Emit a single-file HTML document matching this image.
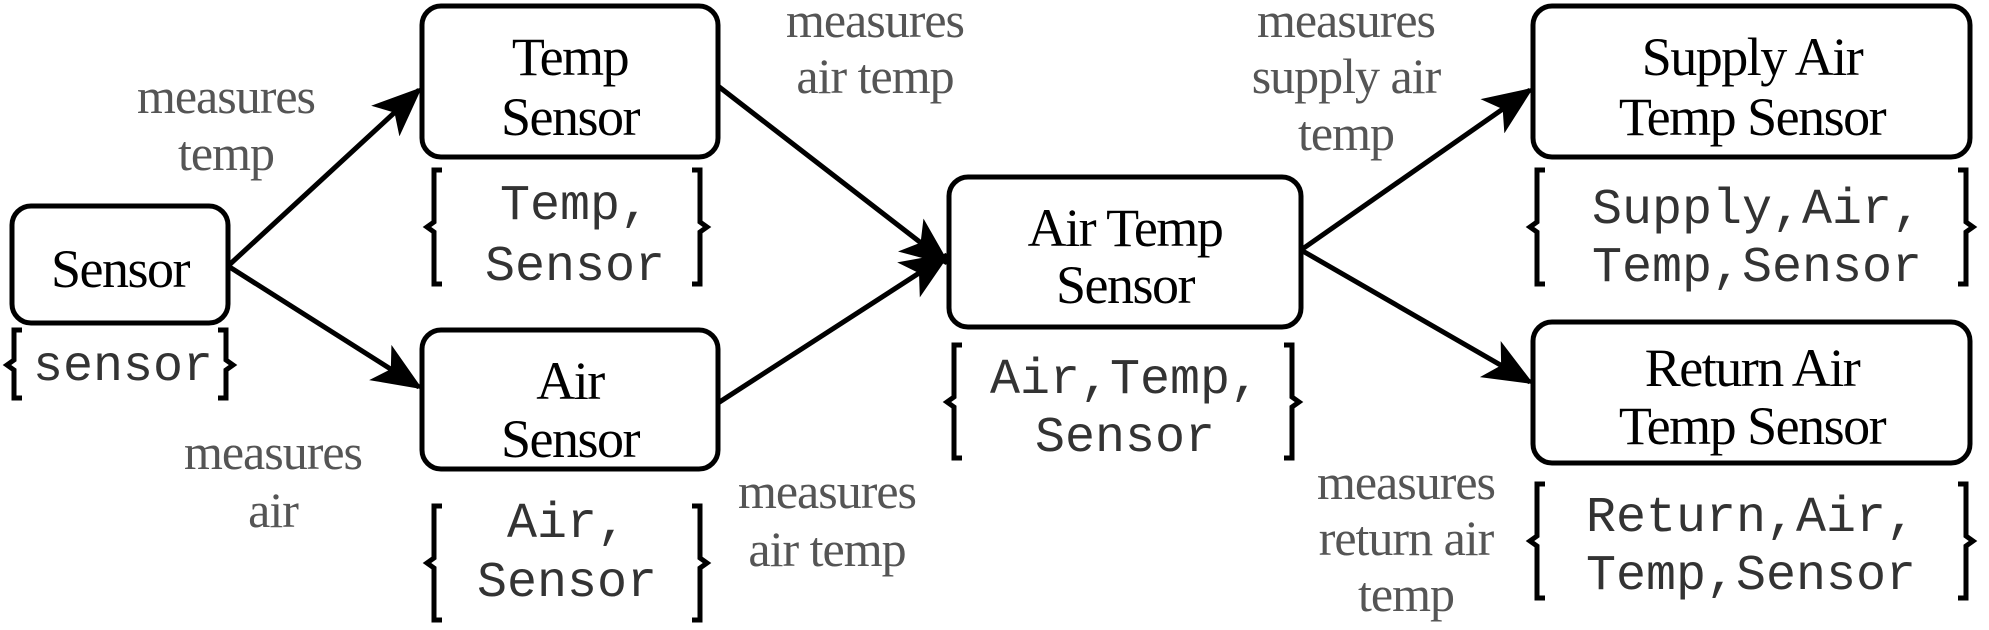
<!DOCTYPE html>
<html><head><meta charset="utf-8"><style>
html,body{margin:0;padding:0;background:#fff}
svg{display:block}
.b{font-family:"Liberation Serif",serif;font-size:54px;letter-spacing:-1.5px;fill:#000;text-anchor:middle}
.l{font-family:"Liberation Serif",serif;font-size:50px;letter-spacing:-1px;fill:#555;text-anchor:middle}
.m{font-family:"Liberation Mono",monospace;font-size:50px;fill:#333;text-anchor:middle}
.box{fill:#fff;stroke:#000;stroke-width:5}
.br{fill:none;stroke:#000;stroke-width:5}
.ln{stroke:#000;stroke-width:5}
</style></head><body>
<svg width="1989" height="630" viewBox="0 0 1989 630" xmlns="http://www.w3.org/2000/svg">
<defs><marker id="a" viewBox="0 0 12 10" refX="11" refY="5" markerWidth="10" markerHeight="10" orient="auto" markerUnits="strokeWidth"><path d="M0,0 L12,5 L0,10 L3,5 z" fill="#000"/></marker></defs>
<line class="ln" x1="228" y1="266" x2="419" y2="90" marker-end="url(#a)"/>
<line class="ln" x1="228" y1="266" x2="419" y2="387" marker-end="url(#a)"/>
<line class="ln" x1="718" y1="86" x2="947" y2="263" marker-end="url(#a)"/>
<line class="ln" x1="718" y1="403" x2="947" y2="255" marker-end="url(#a)"/>
<line class="ln" x1="1301" y1="250" x2="1530" y2="90" marker-end="url(#a)"/>
<line class="ln" x1="1301" y1="250" x2="1530" y2="382" marker-end="url(#a)"/>
<rect class="box" x="12" y="206" width="216" height="117" rx="19"/>
<rect class="box" x="422" y="6" width="296" height="151" rx="19"/>
<rect class="box" x="422" y="330" width="296" height="139" rx="19"/>
<rect class="box" x="949" y="177" width="352" height="150" rx="19"/>
<rect class="box" x="1533" y="6" width="437" height="151" rx="19"/>
<rect class="box" x="1533" y="322" width="437" height="141" rx="19"/>
<text class="b" x="120" y="287">Sensor</text>
<text class="b" x="570" y="75">Temp</text><text class="b" x="570" y="135">Sensor</text>
<text class="b" x="570" y="399">Air</text><text class="b" x="570" y="457">Sensor</text>
<text class="b" x="1125" y="246">Air Temp</text><text class="b" x="1125" y="303">Sensor</text>
<text class="b" x="1752" y="75">Supply Air</text><text class="b" x="1752" y="135">Temp Sensor</text>
<text class="b" x="1752" y="386">Return Air</text><text class="b" x="1752" y="444">Temp Sensor</text>
<text class="l" x="226" y="113">measures</text><text class="l" x="226" y="170">temp</text>
<text class="l" x="273" y="469">measures</text><text class="l" x="273" y="527">air</text>
<text class="l" x="875" y="37">measures</text><text class="l" x="875" y="93">air temp</text>
<text class="l" x="827" y="508">measures</text><text class="l" x="827" y="566">air temp</text>
<text class="l" x="1346" y="37">measures</text><text class="l" x="1346" y="93">supply air</text><text class="l" x="1346" y="150">temp</text>
<text class="l" x="1406" y="499">measures</text><text class="l" x="1406" y="555">return air</text><text class="l" x="1406" y="611">temp</text>
<text class="m" x="123" y="380">sensor</text>
<text class="m" x="575" y="219">Temp,</text><text class="m" x="575" y="280">Sensor</text>
<text class="m" x="567" y="537">Air,</text><text class="m" x="567" y="596">Sensor</text>
<text class="m" x="1125" y="393">Air,Temp,</text><text class="m" x="1125" y="451">Sensor</text>
<text class="m" x="1757" y="223">Supply,Air,</text><text class="m" x="1757" y="281">Temp,Sensor</text>
<text class="m" x="1751" y="531">Return,Air,</text><text class="m" x="1751" y="589">Temp,Sensor</text>
<g class="br">
<path d="M22,330 L14,330 L14,360 L7,365 L14,370 L14,398 L22,398"/>
<path d="M218,330 L226,330 L226,360 L233,365 L226,370 L226,398 L218,398"/>
<path d="M442,170 L434,170 L434,222 L427,227 L434,232 L434,284 L442,284"/>
<path d="M692,170 L700,170 L700,222 L707,227 L700,232 L700,284 L692,284"/>
<path d="M442,506 L434,506 L434,558 L427,563 L434,568 L434,620 L442,620"/>
<path d="M692,506 L700,506 L700,558 L707,563 L700,568 L700,620 L692,620"/>
<path d="M962,345 L954,345 L954,397 L947,402 L954,407 L954,458 L962,458"/>
<path d="M1284,345 L1292,345 L1292,397 L1299,402 L1292,407 L1292,458 L1284,458"/>
<path d="M1545,170 L1537,170 L1537,222 L1530,227 L1537,232 L1537,284 L1545,284"/>
<path d="M1958,170 L1966,170 L1966,222 L1973,227 L1966,232 L1966,284 L1958,284"/>
<path d="M1545,484 L1537,484 L1537,536 L1530,541 L1537,546 L1537,598 L1545,598"/>
<path d="M1958,484 L1966,484 L1966,536 L1973,541 L1966,546 L1966,598 L1958,598"/>
</g>
</svg>
</body></html>
